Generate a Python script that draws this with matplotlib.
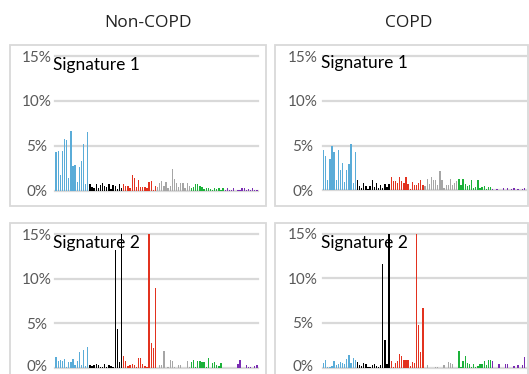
import matplotlib
matplotlib.use("Agg")
import matplotlib.pyplot as plt
import matplotlib.transforms as mtransforms
from matplotlib.patches import Rectangle

# ---- data (percent of mutations, 96 trinucleotide contexts, 6 substitution classes x 16) ----
mut_types = ["C>A", "C>G", "C>T", "T>A", "T>C", "T>G"]
type_colors = ["#5aacd8", "#000000", "#e2321f", "#a6a6a6", "#1cb23a", "#7a2db3"]

noncopd_sig1 = [
    4.3, 4.4, 1.7, 4.4, 5.8, 5.6, 1.4, 6.7, 2.8, 2.9, 1.0, 2.6, 3.3, 5.2, 0.7, 6.5,
    0.8, 0.4, 0.3, 0.8, 0.3, 0.6, 0.9, 0.5, 0.4, 0.7, 0.2, 0.6, 0.5, 0.2, 0.7, 0.3,
    0.7, 0.55, 0.5, 0.3, 1.8, 1.4, 0.45, 1.2, 0.45, 0.45, 0.45, 0.3, 1.0, 1.1, 0.1, 0.55,
    0.4, 0.85, 1.05, 0.5, 1.0, 0.35, 0.5, 2.4, 1.3, 0.9, 0.4, 0.85, 0.85, 0.3, 0.85, 0.5,
    0.3, 0.45, 0.75, 0.7, 0.55, 0.45, 0.2, 0.25, 0.3, 0.2, 0.1, 0.3, 0.2, 0.3, 0.1, 0.35,
    0.1, 0.35, 0.05, 0.1, 0.3, 0.0, 0.05, 0.05, 0.3, 0.35, 0.1, 0.15, 0.05, 0.25, 0.1, 0.1,
]
copd_sig1 = [
    4.55, 3.8, 1.1, 3.45, 4.9, 4.3, 1.2, 4.55, 2.3, 3.1, 0.9, 2.3, 2.9, 5.2, 0.8, 4.3,
    1.1, 0.45, 0.3, 0.8, 0.5, 0.1, 0.45, 1.2, 0.4, 0.85, 0.3, 0.6, 0.3, 0.75, 0.4, 0.75,
    1.45, 1.0, 1.0, 0.8, 1.45, 1.0, 0.8, 1.45, 0.65, 0.1, 0.9, 0.55, 0.55, 0.85, 1.2, 0.55,
    0.5, 1.3, 0.7, 1.45, 1.1, 1.1, 0.6, 2.2, 1.1, 0.3, 0.6, 0.6, 1.3, 0.6, 0.8, 1.0,
    1.3, 0.6, 1.25, 0.7, 0.5, 0.6, 1.1, 0.3, 0.4, 1.1, 0.3, 0.35, 0.5, 0.2, 0.4, 0.35,
    0.15, 0.05, 0.1, 0.0, 0.05, 0.25, 0.05, 0.25, 0.0, 0.1, 0.3, 0.05, 0.15, 0.05, 0.1, 0.3,
]
noncopd_sig2 = [
    1.2, 0.7, 0.9, 0.8, 1.0, 0.1, 0.6, 0.6, 1.0, 0.3, 0.7, 1.8, 0.3, 1.95, 0.2, 2.3,
    0.35, 0.15, 0.35, 0.4, 0.35, 0.05, 0.1, 0.45, 0.05, 0.3, 0.15, 0.1, 13.2, 4.3, 0.6, 17.0,
    1.3, 0.8, 0.15, 0.3, 0.45, 0.3, 0.1, 1.1, 1.1, 0.45, 0.2, 0.05, 16.0, 2.8, 2.2, 8.9,
    0.0, 0.25, 0.25, 1.9, 0.0, 0.05, 0.9, 0.8, 0.1, 0.0, 0.25, 0.25, 0.0, 0.0, 0.8, 0.05,
    0.6, 0.9, 0.1, 0.7, 0.7, 0.65, 0.65, 0.1, 1.1, 0.0, 0.55, 0.65, 0.3, 0.15, 0.5, 0.0,
    0.0, 0.0, 0.0, 0.0, 0.0, 0.0, 0.45, 0.85, 0.0, 0.0, 0.3, 0.1, 0.05, 0.0, 0.2, 0.35,
]
copd_sig2 = [
    0.5, 0.9, 0.05, 0.1, 0.2, 0.8, 0.3, 0.4, 0.6, 0.5, 0.4, 1.0, 1.4, 0.5, 1.1, 0.9,
    0.65, 0.3, 0.15, 0.5, 0.45, 0.1, 0.05, 0.25, 0.45, 0.2, 0.1, 0.35, 11.6, 3.05, 0.45, 16.5,
    0.8, 0.05, 0.5, 0.7, 1.5, 1.3, 0.9, 0.9, 0.9, 0.2, 0.6, 0.5, 16.0, 4.8, 1.7, 6.7,
    0.0, 0.35, 0.0, 0.0, 0.0, 0.1, 0.05, 0.0, 0.0, 0.3, 0.0, 0.6, 0.5, 0.45, 0.0, 0.0,
    1.85, 0.1, 0.7, 1.3, 0.5, 0.4, 0.1, 0.45, 0.1, 0.2, 0.4, 0.45, 0.8, 0.35, 0.85, 0.85,
    0.8, 0.0, 0.0, 0.45, 0.0, 0.0, 0.45, 0.45, 0.0, 0.0, 0.15, 0.0, 0.3, 0.0, 0.35, 1.2,
]

column_titles = ["Non-COPD", "COPD"]
panel_titles = ["Signature 1", "Signature 1", "Signature 2", "Signature 2"]
y_ticks = [0, 5, 10, 15]
y_tick_labels = ["0%", "5%", "10%", "15%"]

# ---- figure ----
W, H = 529, 374
fig = plt.figure(figsize=(W / 100, H / 100), dpi=100)
FONT = ["Lato", "DejaVu Sans"]

def fx(px):
    return px / W

def fy(py):
    return 1 - py / H

# panel frames (light grey boxes)
frames = [(9.5, 45, 266, 206), (275, 45, 528, 206), (9.5, 223, 266, 385), (275, 223, 528, 385)]
for x0, y0, x1, y1 in frames:
    fig.patches.append(Rectangle((fx(x0), fy(y1)), fx(x1) - fx(x0), fy(y0) - fy(y1),
                                 transform=fig.transFigure, fill=False,
                                 edgecolor="#d9d9d9", linewidth=1.3, zorder=0))

# axes rectangles: (left px, right px, y of 15% px, y of 0% px)
axes_px = [(55, 258, 56, 190.7), (322.5, 525.5, 56, 190.3),
           (55, 258, 234.2, 367.7), (322.5, 525.5, 233.5, 367.7)]
datasets = [noncopd_sig1, copd_sig1, noncopd_sig2, copd_sig2]
label_centers = [37, 303, 37, 303]
title_pos = [(53, 65), (321, 63), (53, 243), (321, 243)]

colors96 = [c for c in type_colors for _ in range(16)]

for k, (l, r, t, b) in enumerate(axes_px):
    ax = fig.add_axes([fx(l), fy(b), fx(r) - fx(l), fy(t) - fy(b)])
    ax.set_facecolor("none")
    for s in ax.spines.values():
        s.set_visible(False)
    vals = datasets[k]
    ax.bar(range(len(vals)), vals, width=0.62, color=colors96, linewidth=0, zorder=2)
    ax.set_xlim(-0.5, 95.5)
    ax.set_ylim(0, 15)
    for yv in y_ticks:
        ax.axhline(yv, color="#d9d9d9", linewidth=1.6, zorder=1, clip_on=False)
    ax.set_xticks([])
    ax.set_yticks(y_ticks)
    pad_pt = (l - label_centers[k]) * 0.72
    labels = ax.set_yticklabels(y_tick_labels, fontsize=11, color="#595959", family=FONT, ha="center")
    ax.tick_params(axis="y", length=0, pad=pad_pt)
    if k >= 2:
        # keep the bottom "0%" label inside the canvas
        labels[0].set_transform(labels[0].get_transform() +
                                mtransforms.ScaledTranslation(0, 2 / 100, fig.dpi_scale_trans))
    tx, ty = title_pos[k]
    fig.text(fx(tx), fy(ty), panel_titles[k], fontsize=12.5, family=FONT,
             color="#000000", ha="left", va="center", zorder=1)

fig.text(fx(148), fy(23), column_titles[0], fontsize=12.5, family=["Open Sans", "DejaVu Sans"],
         color="#222222", ha="center", va="center")
fig.text(fx(408.5), fy(23), column_titles[1], fontsize=12.5, family=["Open Sans", "DejaVu Sans"],
         color="#222222", ha="center", va="center")

fig.savefig("out.png", dpi=100)
